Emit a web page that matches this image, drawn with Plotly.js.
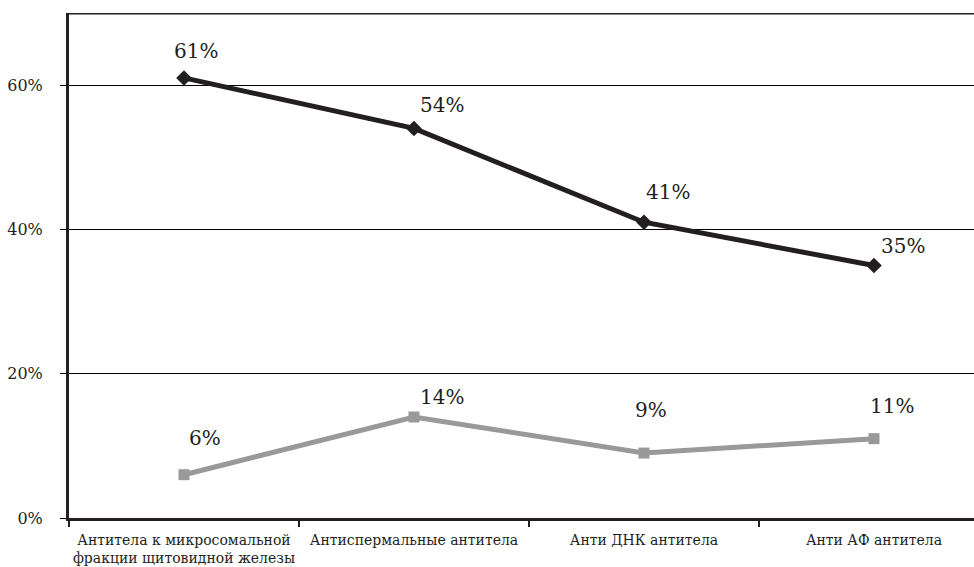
<!DOCTYPE html>
<html>
<head>
<meta charset="utf-8">
<script src="https://cdn.plot.ly/plotly-3.0.1.min.js"></script>
<style>html,body{margin:0;padding:0;background:#fff;}#chart{width:974px;height:567px;}</style>
</head>
<body>
<div id="chart"></div>
<script>
var categories = ["Антитела к микросомальной<br>фракции щитовидной железы", "Антиспермальные антитела", "Анти ДНК антитела", "Анти АФ антитела"];
var seriesA = [61, 54, 41, 35];
var seriesB = [6, 14, 9, 11];
var yTickVals = [0, 20, 40, 60];
var yTickText = ["0%", "20%", "40%", "60%"];

var offA = [[12, -27], [28, -23], [24, -30], [29, -20]];
var offB = [[21, -37], [28, -20], [7, -43], [18, -33]];

var serif = "DejaVu Serif";

var traces = [
  {x: categories, y: seriesA, type: "scatter", mode: "lines+markers",
   line: {color: "#231f20", width: 5}, marker: {symbol: "diamond", size: 12, color: "#231f20"}, cliponaxis: false},
  {x: categories, y: seriesB, type: "scatter", mode: "lines+markers",
   line: {color: "#999999", width: 5}, marker: {symbol: "square", size: 11, color: "#999999"}, cliponaxis: false}
];

var annotations = [];
seriesA.forEach(function (v, i) {
  annotations.push({x: categories[i], y: v, text: v + "%", showarrow: false,
    xshift: offA[i][0], yshift: -offA[i][1], font: {family: serif, size: 20, color: "#231f20"}});
});
seriesB.forEach(function (v, i) {
  annotations.push({x: categories[i], y: v, text: v + "%", showarrow: false,
    xshift: offB[i][0], yshift: -offB[i][1], font: {family: serif, size: 20, color: "#231f20"}});
});

var layout = {
  width: 974, height: 567,
  margin: {l: 69, r: 0, t: 13, b: 49},
  paper_bgcolor: "#fff", plot_bgcolor: "#fff",
  showlegend: false,
  font: {family: serif, color: "#231f20"},
  xaxis: {
    type: "category", range: [-0.5, 3.435], tickangle: 0,
    tickson: "boundaries", ticks: "outside", ticklen: 6, tickwidth: 2, tickcolor: "#231f20",
    showline: true, linecolor: "#231f20", linewidth: 3,
    showgrid: false, zeroline: false,
    tickfont: {family: serif, size: 14, color: "#231f20"},
    ticklabelstandoff: 7
  },
  yaxis: {
    range: [0, 70], tickvals: yTickVals, ticktext: yTickText,
    ticks: "outside", ticklen: 6, tickwidth: 1, tickcolor: "#000000",
    showline: true, linecolor: "#231f20", linewidth: 3,
    showgrid: true, gridcolor: "#000000", gridwidth: 1, zeroline: false,
    tickfont: {family: serif, size: 16, color: "#231f20"},
    ticklabelstandoff: 14
  },
  shapes: [
    {type: "line", xref: "paper", yref: "y", x0: 0, x1: 1, y0: 70, y1: 70, line: {color: "#231f20", width: 3}}
  ],
  annotations: annotations
};

Plotly.newPlot("chart", traces, layout, {displayModeBar: false, staticPlot: true});
</script>
</body>
</html>
